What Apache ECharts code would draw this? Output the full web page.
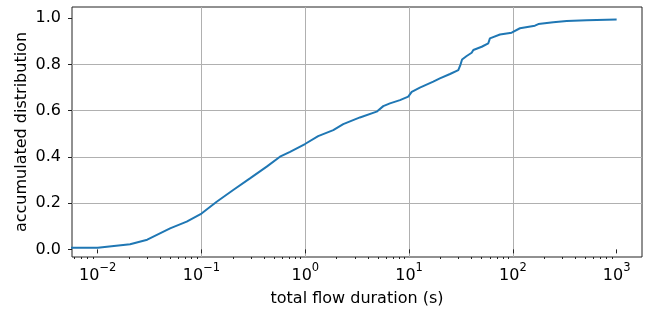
<!DOCTYPE html>
<html>
<head>
<meta charset="utf-8">
<script src="https://cdn.jsdelivr.net/npm/echarts@6/dist/echarts.min.js"></script>
<style>
    html, body { margin: 0; padding: 0; background: #fff; }
    #chart { width: 645px; height: 309px; }
</style>
</head>
<body>
<div id="chart"></div>
<script>
// flow duration (s) and CDF value
const durations = [
    0.005, 0.01, 0.0205, 0.03, 0.0498, 0.072, 0.1, 0.14, 0.202, 0.293,
    0.425, 0.57, 0.713, 0.993, 1.33, 1.86, 2.32, 3.36, 4.87, 5.64,
    6.54, 8.17, 9.82, 10.6, 12.7, 17.1, 19.8, 24.8, 29.8, 31.3,
    32.4, 35.9, 40.1, 41.6, 50.1, 58, 60.1, 75.1, 97.3, 117,
    163, 176, 245, 330, 514, 1000
]
const cdf = [
    0.007, 0.007, 0.022, 0.042, 0.091, 0.12, 0.155, 0.206, 0.257, 0.307,
    0.358, 0.401, 0.422, 0.456, 0.49, 0.516, 0.542, 0.571, 0.596, 0.62,
    0.632, 0.646, 0.661, 0.682, 0.7, 0.726, 0.74, 0.759, 0.776, 0.8,
    0.822, 0.837, 0.851, 0.863, 0.877, 0.892, 0.913, 0.93, 0.938, 0.957,
    0.968, 0.975, 0.983, 0.988, 0.992, 0.995
]
const xMajorTicks = [0.01, 0.1, 1, 10, 100, 1000]
const yTicks = [0, 0.2, 0.4, 0.6, 0.8, 1.0]

// matplotlib style minor ticks: 2..9 x 10^k
const xMinorTicks = []
for (let k = -3; k <= 3; k++) {
    for (let m = 2; m <= 9; m++) {
        const v = m * Math.pow(10, k)
        if (v > 0.00565 && v < 1755) xMinorTicks.push(+v.toPrecision(3))
    }
}

const font = "DejaVu Sans"
const chart = echarts.init(document.getElementById("chart"))

const option = {
    animation: false,
    textStyle: { fontFamily: font },
    grid: {
        left: 72,
        right: 3,
        top: 7,
        bottom: 52,
        outerBoundsMode: "none",
        containLabel: false,
        show: true,
        borderColor: "#222",
        borderWidth: 1,
    },
    xAxis: [
        {
            type: "log",
            logBase: 10,
            min: 0.00565,
            max: 1755,
            name: "total flow duration (s)",
            nameLocation: "middle",
            nameGap: 34,
            nameMoveOverlap: false,
            nameTextStyle: { fontFamily: font, fontSize: 16, color: "#000" },
            axisLine: { show: false },
            axisTick: {
                show: true,
                length: 4,
                customValues: xMajorTicks,
                lineStyle: { color: "#222", width: 1 },
            },
            axisLabel: {
                customValues: xMajorTicks,
                margin: 5,
                color: "#000",
                formatter: (v) => {
                    const e = Math.round(Math.log10(v))
                    return "{base|10}{sup|" + String(e).replace("-", "\u2212") + "}"
                },
                rich: {
                    base: { fontFamily: font, fontSize: 16, color: "#000", verticalAlign: "bottom", padding: [6, 0, 0, 0] },
                    sup: { fontFamily: font, fontSize: 11.5, color: "#000", verticalAlign: "top" },
                },
            },
            splitLine: {
                show: true,
                showMinLine: false,
                showMaxLine: false,
                lineStyle: { color: "#b0b0b0", width: 1 },
            },
        },
        {
            type: "log",
            logBase: 10,
            min: 0.00565,
            max: 1755,
            position: "bottom",
            axisLine: { show: false },
            axisTick: {
                show: true,
                length: 2,
                customValues: xMinorTicks,
                lineStyle: { color: "#222", width: 1 },
            },
            axisLabel: { show: false },
            splitLine: { show: false },
        },
    ],
    yAxis: {
        type: "value",
        min: -0.033,
        max: 1.049,
        name: "accumulated distribution",
        nameLocation: "middle",
        nameGap: 42,
        nameMoveOverlap: false,
        nameTextStyle: { fontFamily: font, fontSize: 16, color: "#000" },
        axisLine: { show: false },
        axisTick: {
            show: true,
            length: 4,
            customValues: yTicks,
            lineStyle: { color: "#222", width: 1 },
        },
        axisLabel: {
            customValues: yTicks,
            margin: 11,
            color: "#000",
            fontFamily: font,
            fontSize: 16,
            formatter: (v) => v.toFixed(1),
        },
        splitLine: {
            show: true,
            showMinLine: false,
            showMaxLine: false,
            lineStyle: { color: "#b0b0b0", width: 1 },
        },
    },
    series: [
        {
            type: "line",
            xAxisIndex: 0,
            data: durations.map((d, i) => [d, cdf[i]]),
            showSymbol: false,
            clip: true,
            lineStyle: { color: "#1f77b4", width: 2 },
        },
    ],
}

chart.setOption(option)
</script>
</body>
</html>
